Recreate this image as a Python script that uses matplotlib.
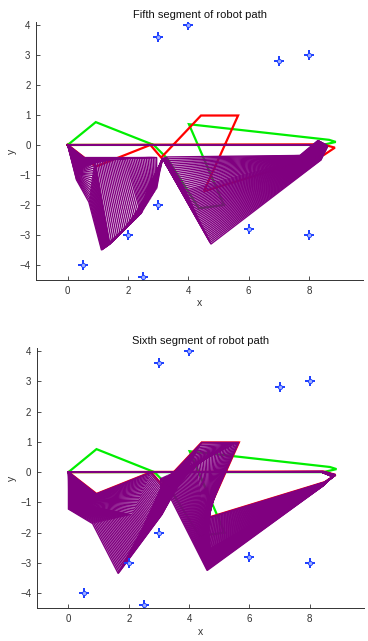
import numpy as np
import matplotlib.pyplot as plt

plt.rcParams['font.family'] = ['Liberation Sans', 'DejaVu Sans']

# ── Obstacle points ───────────────────────────────────────
OBS_X = [0.5, 2.5, 2, 3, 3, 4, 6, 7, 8, 8]
OBS_Y = [-4, -4.4, -3, -2, 3.6, 4, -2.8, 2.8, 3, -3]

# ── Start (green) and goal (red) poses: joints P0..P9 ─────
START_X = [0, 0.93, 2.85, 3.30, 4.35, 5.18, 4.02, 8.67, 8.89, 8.45]
START_Y = [0, 0.76, 0.00, -0.45, -2.11, -2.00, 0.69, 0.17, 0.10, 0.00]
GOAL_X = [0, 0.93, 2.74, 3.10, 4.42, 5.65, 4.52, 8.50, 8.86, 8.45]
GOAL_Y = [0, -0.72, 0.00, -0.42, 0.98, 0.98, -1.54, -0.33, -0.09, 0.02]

# ── Waypoint poses of the fifth segment ───────────────────
SEG5_X = [
    [0, 0.55, 2.95, 2.95, 3.05, 3.15, 3.30, 7.70, 8.30, 8.40],
    [0, 0.42, 1.90, 2.42, 2.70, 3.15, 3.90, 8.00, 8.45, 8.40],
    [0, 0.36, 0.90, 1.40, 2.30, 3.15, 4.30, 8.20, 8.55, 8.40],
    [0, 0.29, 0.70, 1.12, 2.45, 3.15, 4.75, 8.40, 8.62, 8.40],
]
SEG5_Y = [
    [0, -0.42, -0.42, -1.45, -0.90, -0.45, -0.40, -0.35, 0.15, 0.00],
    [0, -0.62, -0.43, -2.30, -1.40, -0.45, -1.50, -0.40, 0.08, 0.00],
    [0, -0.85, -0.45, -3.30, -2.40, -0.45, -2.40, -0.45, 0.02, 0.00],
    [0, -1.16, -1.90, -3.50, -2.25, -0.45, -3.30, -0.50, -0.05, 0.00],
]

# ── Waypoint poses of the sixth segment ───────────────────
SEG6_X = [
    [0, 0.00, 0.80, 1.65, 3.10, 3.05, 4.60, 8.45, 8.75, 8.40],
    [0, 0.45, 2.10, 2.40, 3.60, 4.20, 4.70, 8.45, 8.82, 8.40],
    GOAL_X,
]
SEG6_Y = [
    [0, -1.22, -1.70, -3.35, -1.40, -0.20, -3.25, -0.45, -0.15, 0.00],
    [0, -1.05, -1.40, -1.95, -0.50, 0.30, -2.50, -0.40, -0.12, 0.00],
    GOAL_Y,
]

POSES = 54          # poses drawn per path segment
PURPLE = '#800080'


def path_poses(xs, ys):
    # poses sampled between consecutive waypoints of the segment
    steps = POSES // (len(xs) - 1)
    poses = []
    for k in range(len(xs) - 1):
        a = np.array([xs[k], ys[k]])
        b = np.array([xs[k + 1], ys[k + 1]])
        for t in np.linspace(0, 1, steps, endpoint=False):
            poses.append(a + (b - a) * t)
    poses.append(np.array([xs[-1], ys[-1]]))
    return poses


def draw_pose(ax, px, py, color, lw):
    px = np.append(px, px[0])
    py = np.append(py, py[0])
    ax.plot(px, py, color=color, lw=lw, solid_joinstyle='miter')


def draw_panel(ax, title, xs, ys):
    draw_pose(ax, START_X, START_Y, '#00ee00', 1.6)
    draw_pose(ax, GOAL_X, GOAL_Y, '#ff0000', 1.6)
    for p in path_poses(xs, ys):
        draw_pose(ax, p[0], p[1], PURPLE, 1.0)
    ax.plot(OBS_X, OBS_Y, '+', color='#1a3cff', ms=7, mew=1.4)
    ax.plot(OBS_X, OBS_Y, 'o', color='#1a3cff', mfc='#9fb0ff', ms=3, mew=0.6)

    ax.set_xlim(-1.05, 9.8)
    ax.set_ylim(-4.5, 4.1)
    ax.set_xticks([0, 2, 4, 6, 8])
    ax.set_yticks(range(-4, 5))
    ax.spines['top'].set_visible(False)
    ax.spines['right'].set_visible(False)
    for s in ('left', 'bottom'):
        ax.spines[s].set_color('#333333')
        ax.spines[s].set_linewidth(0.7)
    ax.tick_params(direction='in', length=3, width=0.6, labelsize=7,
                   colors='#333333', pad=4)
    ax.set_xlabel('x', fontsize=7.5, color='#333333', labelpad=2)
    ax.set_ylabel('y', fontsize=7.5, color='#333333', labelpad=2)
    ax.set_title(title, fontsize=8, color='#111111', pad=3)


fig = plt.figure(figsize=(3.68, 6.41), dpi=100)
ax5 = fig.add_axes([0.098, 0.563, 0.889, 0.403])
ax6 = fig.add_axes([0.100, 0.051, 0.889, 0.406])

draw_panel(ax5, 'Fifth segment of robot path', SEG5_X, SEG5_Y)
draw_panel(ax6, 'Sixth segment of robot path', SEG6_X, SEG6_Y)

fig.savefig('out.png', dpi=100, facecolor='white')
